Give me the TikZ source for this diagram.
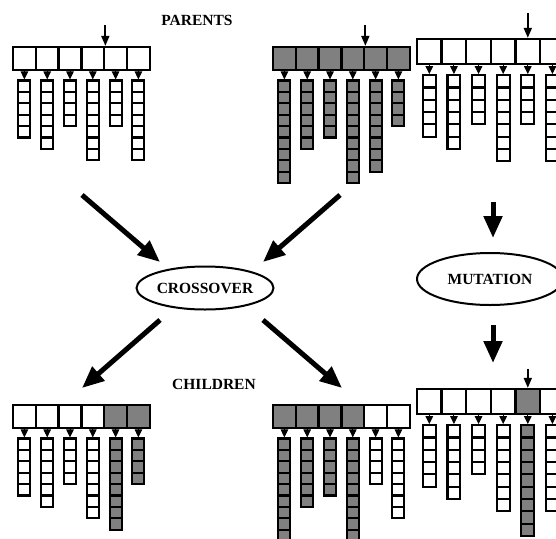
\documentclass[tikz,border=0pt]{standalone}
\usepackage{fontspec}
\setmainfont{Liberation Serif}
\usetikzlibrary{arrows.meta, shapes.geometric}

\tikzset{
  locus/.style={draw, line width=2.3pt, inner sep=0pt},
  allele/.style={draw, line width=2.1pt, inner sep=0pt},
  link/.style={line width=1pt, -{Triangle[length=8pt,width=7.5pt]}},
  cutmark/.style={line width=1.8pt, -{Triangle[length=10pt,width=8pt]}},
  flow/.style={line width=5pt, -{Triangle[length=22pt,width=18pt]}},
  opbox/.style={draw, ellipse, line width=2pt, inner sep=0pt,
    font=\fontsize{15.5}{18}\selectfont\bfseries},
  caption/.style={font=\fontsize{15.5}{18}\selectfont\bfseries}
}

% one chromosome: name, left, top, scale, {length/colour,...}
\newcommand{\chromo}[5]{%
  \foreach \len/\tone [count=\i] in {#5} {
    \node[locus, fill=\tone, minimum width=#4*22.8pt, minimum height=#4*23pt]
      (#1-\i) at ({#2+#4*22.8*(\i-0.5)}, {#3+#4*11.5}) {};
    \foreach \j in {1,...,\len}
      \node[allele, fill=\tone, minimum width=#4*12pt, minimum height=#4*11.4pt]
        (#1-\i-\j) at ({#2+#4*22.8*(\i-0.5)}, {#3+#4*(33.5+11.4*(\j-0.5))}) {};
    \draw[link] (#1-\i) -- (#1-\i-1);
  }%
}

\begin{document}
\begin{tikzpicture}[x=1pt, y=-1pt]
  \useasboundingbox (0,0) rectangle (556,538);
  \clip (0,0) rectangle (556,538);

  \node[caption] (parents) at (197,20) {PARENTS};
  \node[caption] (children) at (214,384) {CHILDREN};

  % parents
  \chromo{pa}{13}{47}{1}{5/white,6/white,4/white,7/white,4/white,7/white}
  \chromo{pb}{273}{47}{1}{9/gray,6/gray,5/gray,9/gray,8/gray,4/gray}
  \chromo{pc}{417}{39}{1.08}{5/white,6/white,4/white,7/white,4/white,7/white}

  % children
  \chromo{ca}{13}{405}{1}{5/white,6/white,4/white,7/white,8/gray,4/gray}
  \chromo{cb}{273}{405}{1}{9/gray,6/gray,5/gray,9/gray,4/white,7/white}
  \chromo{cc}{417}{389}{1.08}{5/white,6/white,4/white,7/white,9/gray,7/white}

  % cut and mutation points
  \coordinate (cuta) at ([yshift=21pt]pa-4.north east);
  \coordinate (cutb) at ([yshift=21pt]pb-4.north east);
  \coordinate (cutc) at ([yshift=25pt]pc-5.north);
  \coordinate (cutd) at ([yshift=19pt]cc-5.north);
  \draw[cutmark] (cuta) -- (pa-4.north east);
  \draw[cutmark] (cutb) -- (pb-4.north east);
  \draw[cutmark] (cutc) -- (pc-5.north);
  \draw[cutmark] (cutd) -- (cc-5.north);

  % operators
  \node[opbox, minimum width=137pt, minimum height=43pt] (xover) at (205,288) {CROSSOVER};
  \node[opbox, minimum width=146pt, minimum height=52pt] (mutate) at (490,279) {MUTATION};

  \coordinate (fromA) at (82,195);
  \coordinate (fromB) at (340,195);
  \coordinate (intoA) at (160,262);
  \coordinate (intoB) at (263,262);
  \coordinate (leaveA) at (160,320);
  \coordinate (leaveB) at (263,320);
  \coordinate (toA) at (82,388);
  \coordinate (toB) at (342,388);
  \draw[flow] (fromA) -- (intoA);
  \draw[flow] (fromB) -- (intoB);
  \draw[flow] (leaveA) -- (toA);
  \draw[flow] (leaveB) -- (toB);

  \coordinate (mtop) at (493,202);
  \coordinate (mtopend) at (493,238);
  \coordinate (mbot) at (493,325);
  \coordinate (mbotend) at (493,363);
  \draw[flow] (mtop) -- (mtopend);
  \draw[flow] (mbot) -- (mbotend);
\end{tikzpicture}
\end{document}
